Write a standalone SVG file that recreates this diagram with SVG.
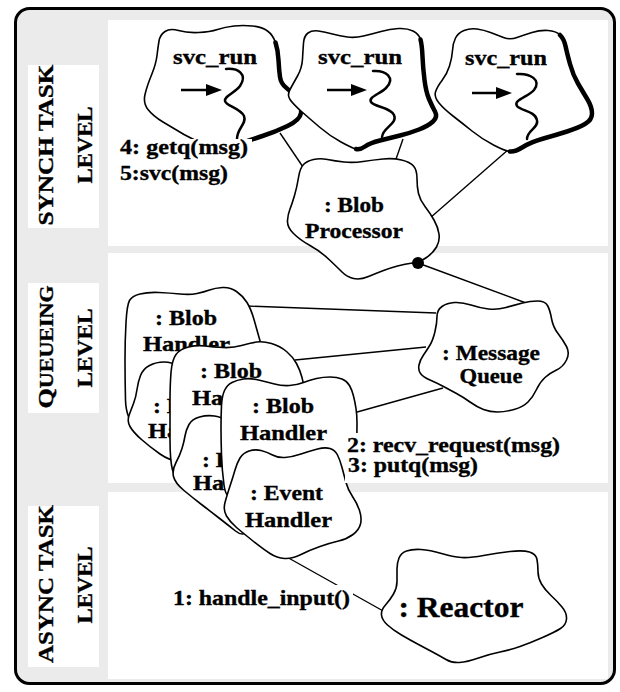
<svg xmlns="http://www.w3.org/2000/svg" width="620" height="692" viewBox="0 0 620 692">
<style>
.cl{fill:#fff;stroke:#000;stroke-width:1.6;stroke-linejoin:round}
.sh{fill:none;stroke:#000;stroke-width:4.5;stroke-linecap:round;stroke-linejoin:round}
.cn{fill:none;stroke:#000;stroke-width:1.4}
.sq{fill:none;stroke:#000;stroke-width:2.5;stroke-linecap:round}
.ar{stroke:#000;stroke-width:2.5}
.t{font-family:"Liberation Serif","Times New Roman",serif;font-weight:bold;font-size:22px;fill:#000;stroke:#000;stroke-width:0.35}
.lb{font-family:"Liberation Serif","Times New Roman",serif;font-weight:bold;font-size:21px;fill:#000;stroke:#000;stroke-width:0.35}
.sd{font-family:"Liberation Serif","Times New Roman",serif;font-weight:bold;font-size:22px;fill:#000;stroke:#000;stroke-width:0.35}
.panel{fill:#fff}
.bg{fill:#fff}
</style>
<defs>
<marker id="ah" viewBox="0 0 16 12" refX="4" refY="6" markerWidth="16" markerHeight="12" markerUnits="userSpaceOnUse" orient="auto">
<path d="M0,0 L16,6 L0,12 Z" fill="#000"/>
</marker>
</defs>
<rect x="0" y="0" width="620" height="692" fill="#fff"/>
<rect x="15.5" y="8.5" width="599" height="675" rx="14" fill="#ebebeb" stroke="#000" stroke-width="3"/>
<rect class="panel" x="108" y="20" width="500" height="226"/>
<rect class="panel" x="108" y="253" width="500" height="230"/>
<rect class="panel" x="108" y="492" width="500" height="187"/>
<g id="level-labels">
<rect class="panel" x="28" y="65" width="71" height="163"/>
<rect class="panel" x="28" y="283" width="71" height="130"/>
<rect class="panel" x="28" y="506" width="71" height="161"/>
<text class="sd" transform="translate(53,145) rotate(-90)" text-anchor="middle" textLength="161" lengthAdjust="spacingAndGlyphs">SYNCH TASK</text>
<text class="sd" transform="translate(92,145) rotate(-90)" text-anchor="middle" textLength="77" lengthAdjust="spacingAndGlyphs">LEVEL</text>
<text class="sd" transform="translate(53,347) rotate(-90)" text-anchor="middle" textLength="123" lengthAdjust="spacingAndGlyphs"><tspan font-size="22">Q</tspan><tspan font-size="18.5">UEUEING</tspan></text>
<text class="sd" transform="translate(92,348) rotate(-90)" text-anchor="middle" textLength="79" lengthAdjust="spacingAndGlyphs">LEVEL</text>
<text class="sd" transform="translate(53,584) rotate(-90)" text-anchor="middle" textLength="158" lengthAdjust="spacingAndGlyphs">ASYNC TASK</text>
<text class="sd" transform="translate(92,585) rotate(-90)" text-anchor="middle" textLength="77" lengthAdjust="spacingAndGlyphs">LEVEL</text>
</g>
<g id="connectors">
<line class="cn" x1="280" y1="133" x2="303" y2="167"/>
<line class="cn" x1="403" y1="139" x2="395" y2="162"/>
<line class="cn" x1="509" y1="149" x2="430" y2="218"/>
<line class="cn" x1="418" y1="263" x2="526" y2="303"/>
<line class="cn" x1="246" y1="306" x2="436" y2="313"/>
<line class="cn" x1="295" y1="360" x2="426" y2="347"/>
<line class="cn" x1="350" y1="414" x2="443" y2="388"/>
<line class="cn" x1="285" y1="556" x2="385" y2="612"/>
</g>
<g id="svc-run-1">
<path class="cl" d="M208.5,145.5 Q195,141 184,134.5 Q173,128 163,122 Q153,116 148,109.5 Q143,103 145,94.5 Q147,86 151.5,75 Q156,64 157,55.5 Q158,47 159,41 Q160,35 165,31.5 Q170,28 178.5,30.5 Q187,33 198.5,32.5 Q210,32 217.5,29.5 Q225,27 234,26 Q243,25 252.5,26 Q262,27 267.5,31 Q273,35 275.5,42.5 Q278,50 278.5,60 Q279,70 280,77 Q281,84 286.5,88 Q292,92 297,99 Q302,106 301,113 Q300,120 287.5,126 Q275,132 262.5,136 Q250,140 236,145 Q222,150 208.5,145.5 Z"/>
<path class="sh" d="M275.5,42.5 Q278,50 278.5,60 Q279,70 280,77 Q281,84 286.5,88 Q292,92 297,99 Q302,106 301,113 Q300,120 287.5,126 Q275,132 262.5,136 Q250,140 236,145"/>
<text class="t" x="215" y="64" text-anchor="middle" textLength="84" lengthAdjust="spacingAndGlyphs">svc_run</text>
<line class="ar" x1="181" y1="90" x2="210" y2="90" marker-end="url(#ah)"/>
<path class="sq" d="M226,69 C238,68 248,74 240,86 C235,93 224,96 225,101 C226,106 240,108 244,116 C247,124 237,128 237,139"/>
</g>
<g id="svc-run-2">
<path class="cl" d="M356,149 Q352,148 341,142 Q330,136 320,127.5 Q310,119 301.5,111.5 Q293,104 290,99.5 Q287,95 290,89.5 Q293,84 297.5,76 Q302,68 302.5,59 Q303,50 303.5,43 Q304,36 308,33 Q312,30 318.5,31 Q325,32 332.5,34 Q340,36 347.5,37 Q355,38 363.5,36 Q372,34 381,31.5 Q390,29 398.5,28.5 Q407,28 413,31 Q419,34 420.5,39.5 Q422,45 422.5,56.5 Q423,68 424.5,80 Q426,92 429,99 Q432,106 435,111.5 Q438,117 433,121.5 Q428,126 419,129.5 Q410,133 400,135.5 Q390,138 380,140.5 Q370,143 365,146.5 Q360,150 356,149 Z"/>
<path class="sh" d="M420.5,39.5 Q422,45 422.5,56.5 Q423,68 424.5,80 Q426,92 429,99 Q432,106 435,111.5 Q438,117 433,121.5 Q428,126 419,129.5 Q410,133 400,135.5 Q390,138 380,140.5 Q370,143 365,146.5 Q360,150 356,149"/>
<text class="t" x="360" y="64" text-anchor="middle" textLength="84" lengthAdjust="spacingAndGlyphs">svc_run</text>
<line class="ar" x1="327" y1="90" x2="355" y2="90" marker-end="url(#ah)"/>
<path class="sq" d="M373,71 C386,70 396,78 386,88 C380,94 368,97 371,102 C374,107 390,107 394,115 C398,124 383,127 382,137"/>
</g>
<g id="svc-run-3">
<path class="cl" d="M510,151.5 Q505,151 493.5,145 Q482,139 472,131 Q462,123 453,116 Q444,109 439,103 Q434,97 435.5,92 Q437,87 442,80.5 Q447,74 449.5,66 Q452,58 452.5,50.5 Q453,43 455.5,38 Q458,33 464,30.5 Q470,28 477,29 Q484,30 490.5,32.5 Q497,35 503.5,37.5 Q510,40 517,37.5 Q524,35 532,32.5 Q540,30 548,30.5 Q556,31 560,35 Q564,39 565.5,46 Q567,53 570,64 Q573,75 578,83.5 Q583,92 587.5,99.5 Q592,107 592,113.5 Q592,120 585,124 Q578,128 567,131.5 Q556,135 543.5,138.5 Q531,142 523,147 Q515,152 510,151.5 Z"/>
<path class="sh" d="M560,35 Q564,39 565.5,46 Q567,53 570,64 Q573,75 578,83.5 Q583,92 587.5,99.5 Q592,107 592,113.5 Q592,120 585,124 Q578,128 567,131.5 Q556,135 543.5,138.5 Q531,142 523,147 Q515,152 510,151.5"/>
<text class="t" x="506" y="65" text-anchor="middle" textLength="82" lengthAdjust="spacingAndGlyphs">svc_run</text>
<line class="ar" x1="472" y1="93" x2="500" y2="93" marker-end="url(#ah)"/>
<path class="sq" d="M517,74 C530,73 542,80 534,90 C528,97 513,100 517,106 C521,111 535,111 537,120 C539,128 527,130 527,139"/>
</g>
<g id="blob-processor">
<path class="cl" d="M298.5,177.5 Q300,168 303.5,164.5 Q307,161 313.5,159.5 Q320,158 327.5,159.5 Q335,161 344,162 Q353,163 363,161.5 Q373,160 383,159 Q393,158 401.5,160 Q410,162 413.5,166 Q417,170 417,178.5 Q417,187 418.5,193.5 Q420,200 425,206.5 Q430,213 434,220 Q438,227 439,234 Q440,241 436.5,247 Q433,253 426.5,257.5 Q420,262 412.5,263 Q405,264 397.5,266 Q390,268 383.5,270.5 Q377,273 368.5,276.5 Q360,280 353.5,278.5 Q347,277 342,272 Q337,267 328.5,259 Q320,251 310,245.5 Q300,240 293.5,233.5 Q287,227 287.5,220.5 Q288,214 290,209 Q292,204 294.5,195.5 Q297,187 298.5,177.5 Z"/>
<text class="t" x="354" y="212" text-anchor="middle" textLength="60" lengthAdjust="spacingAndGlyphs">: Blob</text>
<text class="t" x="354" y="238" text-anchor="middle" textLength="98" lengthAdjust="spacingAndGlyphs">Processor</text>
<circle cx="418" cy="263" r="6" fill="#000"/>
</g>
<g id="message-queue">
<path class="cl" d="M437,316.5 Q437,310 442,306.5 Q447,303 454.5,302.5 Q462,302 471,305 Q480,308 488.5,309 Q497,310 506,307.5 Q515,305 522.5,303 Q530,301 537.5,301 Q545,301 547.5,305.5 Q550,310 551.5,318.5 Q553,327 558,333.5 Q563,340 566.5,346.5 Q570,353 566.5,360 Q563,367 556.5,370 Q550,373 545,377.5 Q540,382 536.5,389.5 Q533,397 528,402 Q523,407 514,409.5 Q505,412 497.5,412 Q490,412 483.5,409.5 Q477,407 470,402 Q463,397 456.5,393.5 Q450,390 443.5,386.5 Q437,383 430,380 Q423,377 420.5,373.5 Q418,370 419,365 Q420,360 423.5,355 Q427,350 430,345 Q433,340 435,331.5 Q437,323 437,316.5 Z"/>
<text class="t" x="491" y="360" text-anchor="middle" textLength="98" lengthAdjust="spacingAndGlyphs">: Message</text>
<text class="t" x="491" y="383" text-anchor="middle" textLength="63" lengthAdjust="spacingAndGlyphs">Queue</text>
</g>
<g id="blob-handler-1">
<path class="cl" d="M126,322.5 Q127,305 129.5,300.5 Q132,296 140,294 Q148,292 159,292.5 Q170,293 180,294 Q190,295 197,293.5 Q204,292 209.5,290 Q215,288 222.5,287.5 Q230,287 236.5,291.5 Q243,296 247,302.5 Q251,309 254,319.5 Q257,330 259.5,339 Q262,348 265,361.5 Q268,375 261.5,397.5 Q255,420 227.5,435 Q200,450 175,445 Q150,440 138,430 Q126,420 125.5,400 Q125,380 125,360 Q125,340 126,322.5 Z"/>
<text class="t" x="155" y="325" textLength="62" lengthAdjust="spacingAndGlyphs">: Blob</text>
<text class="t" x="143" y="351" textLength="87" lengthAdjust="spacingAndGlyphs">Handler</text>
</g>
<g id="event-handler-1">
<path class="cl" d="M137,389.5 Q138,382 140.5,375.5 Q143,369 149.5,365.5 Q156,362 164,362 Q172,362 181,367 Q190,372 195,396 Q200,420 195,441 Q190,462 180,461.5 Q170,461 160,454 Q150,447 141.5,439.5 Q133,432 130,426.5 Q127,421 129,415.5 Q131,410 133.5,403.5 Q136,397 137,389.5 Z"/>
<text class="t" x="153" y="413" textLength="73" lengthAdjust="spacingAndGlyphs">: Event</text>
<text class="t" x="148" y="438" textLength="87" lengthAdjust="spacingAndGlyphs">Handler</text>
</g>
<g id="blob-handler-2">
<path class="cl" d="M171,372.5 Q172,360 176,354.5 Q180,349 188.5,347 Q197,345 205,346 Q213,347 223,347.5 Q233,348 241.5,345.5 Q250,343 256.5,342 Q263,341 271.5,343.5 Q280,346 286.5,351.5 Q293,357 296.5,363.5 Q300,370 302,377.5 Q304,385 306,402.5 Q308,420 299,445 Q290,470 260,482.5 Q230,495 202.5,487.5 Q175,480 172.5,470 Q170,460 170,440 Q170,420 170,402.5 Q170,385 171,372.5 Z"/>
<text class="t" x="200" y="378" textLength="62" lengthAdjust="spacingAndGlyphs">: Blob</text>
<text class="t" x="192" y="405" textLength="87" lengthAdjust="spacingAndGlyphs">Handler</text>
</g>
<g id="event-handler-2">
<path class="cl" d="M185,436 Q186,430 189,424.5 Q192,419 199.5,417 Q207,415 214.5,416 Q222,417 230,422.5 Q238,428 245,446.5 Q252,465 252,495 Q252,525 247.5,531 Q243,537 235.5,531 Q228,525 219,518 Q210,511 201.5,504.5 Q193,498 184,490.5 Q175,483 173.5,476.5 Q172,470 176,462.5 Q180,455 182,448.5 Q184,442 185,436 Z"/>
<text class="t" x="202" y="467" textLength="73" lengthAdjust="spacingAndGlyphs">: Event</text>
<text class="t" x="193" y="490" textLength="87" lengthAdjust="spacingAndGlyphs">Handler</text>
</g>
<g id="blob-handler-3">
<path class="cl" d="M221.5,405.5 Q222,396 224.5,390.5 Q227,385 232,382.5 Q237,380 243.5,379 Q250,378 258.5,380 Q267,382 274.5,384 Q282,386 289.5,385.5 Q297,385 303.5,382.5 Q310,380 316.5,378.5 Q323,377 330,377 Q337,377 342,379 Q347,381 349.5,385.5 Q352,390 353.5,396 Q355,402 356,408.5 Q357,415 357,422.5 Q357,430 356.5,455 Q356,480 328,482.5 Q300,485 270,486.5 Q240,488 233,494 Q226,500 224,485 Q222,470 221.5,455 Q221,440 221,427.5 Q221,415 221.5,405.5 Z"/>
<text class="t" x="252" y="413" textLength="62" lengthAdjust="spacingAndGlyphs">: Blob</text>
<text class="t" x="240" y="440" textLength="87" lengthAdjust="spacingAndGlyphs">Handler</text>
</g>
<g id="event-handler-3">
<path class="cl" d="M235,470 Q237,463 240,458 Q243,453 249,451 Q255,449 261,450.5 Q267,452 272.5,455 Q278,458 285,457.5 Q292,457 301,454 Q310,451 317.5,449 Q325,447 330,448.5 Q335,450 337.5,455 Q340,460 342,467.5 Q344,475 346,482.5 Q348,490 352.5,496.5 Q357,503 359.5,510.5 Q362,518 360.5,524 Q359,530 353,534.5 Q347,539 338.5,541 Q330,543 320,546.5 Q310,550 301,554.5 Q292,559 284.5,558.5 Q277,558 270,553.5 Q263,549 253,541 Q243,533 236.5,527.5 Q230,522 226.5,516 Q223,510 225,502.5 Q227,495 230,486 Q233,477 235,470 Z"/>
<text class="t" x="250" y="500" textLength="73" lengthAdjust="spacingAndGlyphs">: Event</text>
<text class="t" x="245" y="527" textLength="87" lengthAdjust="spacingAndGlyphs">Handler</text>
</g>
<g id="reactor">
<path class="cl" d="M397,569 Q397,563 399,558 Q401,553 406.5,551 Q412,549 421,549.5 Q430,550 441.5,553.5 Q453,557 461.5,557.5 Q470,558 483.5,555.5 Q497,553 510,551.5 Q523,550 529.5,552 Q536,554 537,559.5 Q538,565 538,571.5 Q538,578 541.5,584 Q545,590 551,595.5 Q557,601 562,607 Q567,613 566.5,619 Q566,625 560.5,628.5 Q555,632 542.5,637.5 Q530,643 520,646.5 Q510,650 500,652 Q490,654 478.5,658 Q467,662 459.5,662.5 Q452,663 446,659.5 Q440,656 433.5,652.5 Q427,649 418.5,644.5 Q410,640 401.5,635 Q393,630 387.5,625 Q382,620 381.5,615 Q381,610 385.5,605 Q390,600 393.5,594 Q397,588 397,581.5 Q397,575 397,569 Z"/>
<text class="t" x="461" y="617" text-anchor="middle" style="font-size:30px" textLength="125" lengthAdjust="spacingAndGlyphs">: Reactor</text>
</g>
<g id="message-labels">
<rect class="bg" x="117" y="139" width="135" height="48"/>
<text class="lb" x="120" y="154" textLength="128" lengthAdjust="spacingAndGlyphs">4: getq(msg)</text>
<text class="lb" x="120" y="180" textLength="108" lengthAdjust="spacingAndGlyphs">5:svc(msg)</text>
<rect class="bg" x="345" y="433" width="220" height="50"/>
<text class="lb" x="347" y="452" textLength="213" lengthAdjust="spacingAndGlyphs">2: recv_request(msg)</text>
<text class="lb" x="348" y="472" textLength="130" lengthAdjust="spacingAndGlyphs">3: putq(msg)</text>
<rect class="bg" x="170" y="585" width="183" height="26"/>
<text class="lb" x="173" y="605" textLength="177" lengthAdjust="spacingAndGlyphs">1: handle_input()</text>
</g>
</svg>
